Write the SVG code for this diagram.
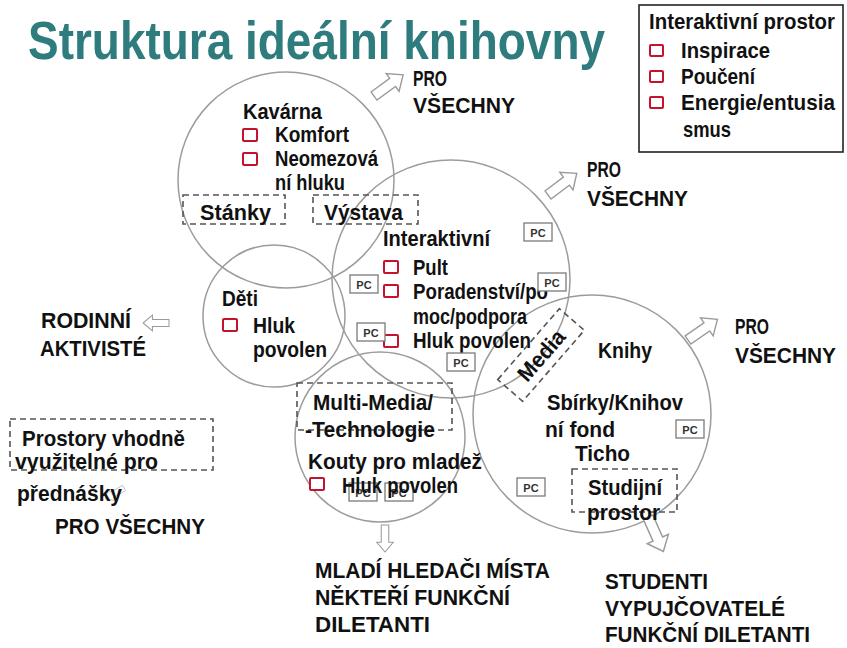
<svg xmlns="http://www.w3.org/2000/svg" width="847" height="648" viewBox="0 0 847 648">
  <defs>
    <style>
      .ring { fill: none; stroke: #9c9c9c; stroke-width: 1.5; }
      .t { font-family: "Liberation Sans Narrow", "Liberation Sans", Arial, sans-serif; font-weight: bold; font-size: 22px; fill: #111; }
      .cap { font-family: "Liberation Sans", Arial, sans-serif; font-weight: bold; font-size: 22px; fill: #111; }
      .title { font-family: "Liberation Sans Narrow", "Liberation Sans", Arial, sans-serif; font-weight: bold; font-size: 54px; fill: #2e7c7d; }
      .dash { fill: none; stroke: #555; stroke-width: 1.6; stroke-dasharray: 6 4; }
      .chk { fill: #fff; stroke: #c4122f; stroke-width: 2; }
      .pcr { fill: #fff; stroke: #7a7a7a; stroke-width: 1.3; }
      .pct { font-family: "Liberation Sans", Arial, sans-serif; font-weight: bold; font-size: 11px; fill: #333; text-anchor: middle; }
      .arrow { fill: #fff; stroke: #9a9a9a; stroke-width: 1.4; stroke-linejoin: miter; }
      .legend-box { fill: #fff; stroke: #222; stroke-width: 1.6; }
    </style>
    <!-- hollow block arrow, tail at origin, pointing along +x -->
    <path id="blk" d="M0,-5 H23 V-11 L36,0 L23,11 V5 H0 Z"/>
    <!-- small workstation tag -->
    <g id="pcbox">
      <rect class="pcr" x="0" y="0" width="28" height="18"/>
      <text class="pct" x="14" y="13.5">PC</text>
    </g>
  </defs>

  <rect width="847" height="648" fill="#fff"/>

  <g id="title">
    <text class="title" x="28" y="59" textLength="577" lengthAdjust="spacingAndGlyphs">Struktura ideální knihovny</text>
  </g>

  <!-- outline circles of the library zones -->
  <g id="zones">
    <circle class="ring" cx="286" cy="180" r="108"/>
    <circle class="ring" cx="451" cy="279" r="119"/>
    <circle class="ring" cx="274" cy="316" r="71"/>
    <circle class="ring" cx="380" cy="437" r="85"/>
    <circle class="ring" cx="592" cy="414" r="119"/>
  </g>

  <g id="connectors">
    <use href="#blk" class="arrow" transform="translate(374,96) rotate(-36)"/>
    <use href="#blk" class="arrow" transform="translate(548,195) rotate(-37)"/>
    <use href="#blk" class="arrow" transform="translate(688,340) rotate(-35)"/>
    <use href="#blk" class="arrow" transform="translate(169,323) rotate(180) scale(0.72)"/>
    <use href="#blk" class="arrow" transform="translate(385,525) rotate(90) scale(0.75)"/>
    <use href="#blk" class="arrow" transform="translate(648,517) rotate(66) scale(1.05)"/>
    <use href="#blk" class="arrow" transform="translate(124,488) rotate(150) scale(0.6)" style="stroke:#bbb"/>
  </g>

  <g id="kavarna">
    <text class="t" x="243" y="119" textLength="79" lengthAdjust="spacingAndGlyphs">Kavárna</text>
    <rect class="chk" x="243" y="129" width="14" height="12" rx="1"/>
    <text class="t" x="275" y="142" textLength="74" lengthAdjust="spacingAndGlyphs">Komfort</text>
    <rect class="chk" x="243" y="153" width="14" height="12" rx="1"/>
    <text class="t" x="275" y="166" textLength="103" lengthAdjust="spacingAndGlyphs">Neomezová</text>
    <text class="t" x="275" y="190" textLength="70" lengthAdjust="spacingAndGlyphs">ní hluku</text>
  </g>

  <g id="stanky">
    <rect class="dash" x="183" y="195" width="102" height="29"/>
    <text class="t" x="200" y="220" textLength="71" lengthAdjust="spacingAndGlyphs">Stánky</text>
  </g>

  <g id="vystava">
    <rect class="dash" x="313" y="195" width="105" height="29"/>
    <text class="t" x="324" y="220" textLength="79" lengthAdjust="spacingAndGlyphs">Výstava</text>
  </g>

  <g id="interaktivni">
    <text class="t" x="383" y="246" textLength="107" lengthAdjust="spacingAndGlyphs">Interaktivní</text>
    <rect class="chk" x="384" y="261" width="14" height="12" rx="1"/>
    <text class="t" x="413" y="275" textLength="35" lengthAdjust="spacingAndGlyphs">Pult</text>
    <rect class="chk" x="384" y="285" width="14" height="12" rx="1"/>
    <text class="t" x="413" y="299" textLength="135" lengthAdjust="spacingAndGlyphs">Poradenství/po</text>
    <text class="t" x="413" y="324" textLength="114" lengthAdjust="spacingAndGlyphs">moc/podpora</text>
    <rect class="chk" x="384" y="335" width="14" height="12" rx="1"/>
    <text class="t" x="413" y="348" textLength="118" lengthAdjust="spacingAndGlyphs">Hluk povolen</text>
    <use href="#pcbox" x="524" y="223"/>
    <use href="#pcbox" x="350" y="275"/>
    <use href="#pcbox" x="538" y="273"/>
    <use href="#pcbox" x="357" y="323"/>
    <use href="#pcbox" x="447" y="353"/>
  </g>

  <g id="media" transform="translate(541,355) rotate(-49)">
    <rect class="dash" x="-47" y="-16.5" width="94" height="33"/>
    <text class="t" x="0" y="8" text-anchor="middle" textLength="60" lengthAdjust="spacingAndGlyphs">Media</text>
  </g>

  <g id="deti">
    <text class="t" x="222" y="306" textLength="36" lengthAdjust="spacingAndGlyphs">Děti</text>
    <rect class="chk" x="223" y="319" width="14" height="12" rx="1"/>
    <text class="t" x="253" y="333" textLength="42" lengthAdjust="spacingAndGlyphs">Hluk</text>
    <text class="t" x="253" y="357" textLength="74" lengthAdjust="spacingAndGlyphs">povolen</text>
  </g>

  <g id="multimedia">
    <rect class="dash" x="297" y="383" width="155" height="47"/>
    <text class="t" x="313" y="410" textLength="120" lengthAdjust="spacingAndGlyphs">Multi-Media/</text>
    <text class="t" x="305" y="437" textLength="130" lengthAdjust="spacingAndGlyphs">-Technologie</text>
    <text class="t" x="308" y="469" textLength="174" lengthAdjust="spacingAndGlyphs">Kouty pro mladež</text>
    <use href="#pcbox" x="349" y="483"/>
    <use href="#pcbox" x="385" y="483"/>
    <rect class="chk" x="310" y="478" width="14" height="12" rx="1"/>
    <text class="t" x="342" y="493" textLength="116" lengthAdjust="spacingAndGlyphs">Hluk povolen</text>
  </g>

  <g id="knihy">
    <text class="t" x="598" y="358" textLength="54" lengthAdjust="spacingAndGlyphs">Knihy</text>
    <text class="t" x="547" y="410" textLength="136" lengthAdjust="spacingAndGlyphs">Sbírky/Knihov</text>
    <text class="t" x="545" y="437" textLength="70" lengthAdjust="spacingAndGlyphs">ní fond</text>
    <text class="t" x="575" y="461" textLength="55" lengthAdjust="spacingAndGlyphs">Ticho</text>
    <use href="#pcbox" x="676" y="420"/>
    <use href="#pcbox" x="517" y="478"/>
  </g>

  <g id="studijni">
    <rect class="dash" x="572" y="469" width="105" height="43"/>
    <text class="t" x="588" y="495" textLength="74" lengthAdjust="spacingAndGlyphs">Studijní</text>
    <text class="t" x="587" y="520" textLength="73" lengthAdjust="spacingAndGlyphs">prostor</text>
  </g>

  <g id="prednasky">
    <rect class="dash" x="10" y="419" width="203" height="51"/>
    <text class="t" x="22" y="446" textLength="163" lengthAdjust="spacingAndGlyphs">Prostory vhodně</text>
    <text class="t" x="15" y="469" textLength="143" lengthAdjust="spacingAndGlyphs">využitelné pro</text>
    <text class="t" x="17" y="501" textLength="105" lengthAdjust="spacingAndGlyphs">přednášky</text>
  </g>

  <g id="audiences">
    <text class="cap" x="413" y="86" textLength="34" lengthAdjust="spacingAndGlyphs">PRO</text>
    <text class="cap" x="413" y="113" textLength="102" lengthAdjust="spacingAndGlyphs">VŠECHNY</text>
    <text class="cap" x="587" y="177" textLength="34" lengthAdjust="spacingAndGlyphs">PRO</text>
    <text class="cap" x="587" y="206" textLength="101" lengthAdjust="spacingAndGlyphs">VŠECHNY</text>
    <text class="cap" x="735" y="334" textLength="34" lengthAdjust="spacingAndGlyphs">PRO</text>
    <text class="cap" x="735" y="363" textLength="101" lengthAdjust="spacingAndGlyphs">VŠECHNY</text>
    <text class="cap" x="41" y="328" textLength="90" lengthAdjust="spacingAndGlyphs">RODINNÍ</text>
    <text class="cap" x="40" y="356" textLength="106" lengthAdjust="spacingAndGlyphs">AKTIVISTÉ</text>
    <text class="cap" x="55" y="534" textLength="150" lengthAdjust="spacingAndGlyphs">PRO VŠECHNY</text>
    <text class="cap" x="315" y="578" textLength="235" lengthAdjust="spacingAndGlyphs">MLADÍ HLEDAČI MÍSTA</text>
    <text class="cap" x="315" y="605" textLength="195" lengthAdjust="spacingAndGlyphs">NĚKTEŘÍ FUNKČNÍ</text>
    <text class="cap" x="315" y="632" textLength="115" lengthAdjust="spacingAndGlyphs">DILETANTI</text>
    <text class="cap" x="605" y="589" textLength="103" lengthAdjust="spacingAndGlyphs">STUDENTI</text>
    <text class="cap" x="605" y="616" textLength="180" lengthAdjust="spacingAndGlyphs">VYPUJČOVATELÉ</text>
    <text class="cap" x="605" y="642" textLength="205" lengthAdjust="spacingAndGlyphs">FUNKČNÍ DILETANTI</text>
  </g>

  <g id="legend">
    <rect class="legend-box" x="639" y="5" width="204" height="147"/>
    <text class="t" x="649" y="29" font-size="19" textLength="186" lengthAdjust="spacingAndGlyphs">Interaktivní prostor</text>
    <rect class="chk" x="650" y="45" width="13" height="11" rx="1"/>
    <text class="t" x="681" y="58" font-size="20" textLength="89" lengthAdjust="spacingAndGlyphs">Inspirace</text>
    <rect class="chk" x="650" y="71" width="13" height="11" rx="1"/>
    <text class="t" x="681" y="84" font-size="20" textLength="74" lengthAdjust="spacingAndGlyphs">Poučení</text>
    <rect class="chk" x="650" y="97" width="13" height="11" rx="1"/>
    <text class="t" x="681" y="110" font-size="20" textLength="154" lengthAdjust="spacingAndGlyphs">Energie/entusia</text>
    <text class="t" x="683" y="137" font-size="20" textLength="48" lengthAdjust="spacingAndGlyphs">smus</text>
  </g>
</svg>
